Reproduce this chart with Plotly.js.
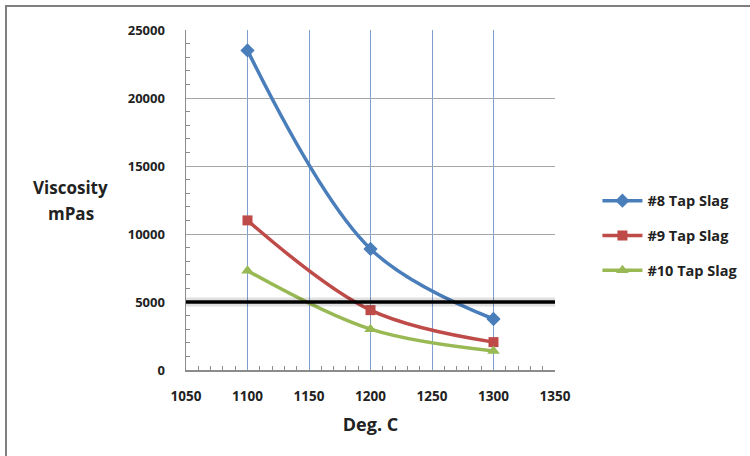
<!DOCTYPE html>
<html>
<head>
<meta charset="utf-8">
<script src="https://cdn.plot.ly/plotly-3.0.1.min.js"></script>
<style>
  html, body { margin: 0; padding: 0; background: #fff; }
  #wrap { position: relative; width: 750px; height: 456px; overflow: hidden; }
  #chart { position: absolute; left: 0; top: 0; width: 750px; height: 456px; }
  #frame { position: absolute; left: 5px; top: 5px; width: 760px; height: 470px;
           border-left: 2px solid #7f7f7f; border-top: 2px solid #7f7f7f; pointer-events: none; }
</style>
</head>
<body>
<div id="wrap"><div id="chart"></div><div id="frame"></div></div>
<script>
// Data
const temperatures = [1100, 1200, 1300];
const tap8 = [23500, 8900, 3750];
const tap9 = [11000, 4400, 2050];
const tap10 = [7300, 3000, 1400];
const seriesNames = ['#8 Tap Slag', '#9 Tap Slag', '#10 Tap Slag'];
const threshold = 5000;
const xRange = [1050, 1350];
const yRange = [0, 25000];

const FONT = '"Open Sans", "DejaVu Sans", sans-serif';
const TXT = '#222222';
const colors = ['#4a7ebb', '#be4b48', '#98b954'];
const symbols = ['diamond', 'square', 'triangle-up'];
const values = [tap8, tap9, tap10];

const traces = values.map((v, i) => ({
  x: temperatures,
  y: v,
  name: seriesNames[i],
  type: 'scatter',
  mode: 'lines+markers',
  line: { color: colors[i], width: 3.5, shape: 'spline', smoothing: 1 },
  marker: { symbol: symbols[i], size: i === 1 ? 10 : 11, color: colors[i] },
  legendgroup: 'g' + i,
  cliponaxis: false
}));

const layout = {
  width: 750,
  height: 456,
  margin: { l: 186, r: 195, t: 30, b: 86, autoexpand: false },
  paper_bgcolor: '#ffffff',
  plot_bgcolor: '#ffffff',
  font: { family: FONT, color: TXT },
  showlegend: true,
  legend: {
    x: 1.115, xanchor: 'left', y: 0.395, yanchor: 'middle',
    font: { family: FONT, size: 14.5, color: TXT, weight: 'bold' },
    tracegroupgap: 13,
    itemwidth: 40,
    bgcolor: 'rgba(0,0,0,0)'
  },
  xaxis: {
    range: xRange,
    dtick: 50,
    tick0: 1050,
    tickformat: 'd',
    automargin: false,
    showgrid: true,
    gridcolor: '#7f9fcf',
    gridwidth: 1,
    zeroline: false,
    showline: true,
    linecolor: '#8c8c8c',
    linewidth: 1.5,
    ticks: '',
    ticklabelstandoff: 13,
    tickfont: { family: FONT, size: 13.5, color: TXT, weight: 'bold' },
    minor: { ticks: 'inside', dtick: 10, ticklen: 4, tickcolor: '#8c8c8c', showgrid: false },
    title: { text: 'Deg. C', font: { family: FONT, size: 18, color: TXT, weight: 'bold' }, standoff: 14 },
    fixedrange: true
  },
  yaxis: {
    range: yRange,
    dtick: 5000,
    tickformat: 'd',
    automargin: false,
    showgrid: true,
    gridcolor: '#a6a6a6',
    gridwidth: 1,
    zeroline: false,
    showline: true,
    linecolor: '#8c8c8c',
    linewidth: 1.5,
    ticks: '',
    ticklabelstandoff: 17,
    tickfont: { family: FONT, size: 13, color: TXT, weight: 'bold' },
    minor: { ticks: 'inside', dtick: 1000, ticklen: 4, tickcolor: '#8c8c8c', showgrid: false },
    fixedrange: true
  },
  shapes: [
    { type: 'line', xref: 'paper', yref: 'y', x0: 0, x1: 1, y0: threshold, y1: threshold,
      line: { color: 'rgba(0,0,0,0.12)', width: 9 }, layer: 'above' },
    { type: 'line', xref: 'paper', yref: 'y', x0: 0, x1: 1, y0: threshold, y1: threshold,
      line: { color: '#000000', width: 3.5 }, layer: 'above' }
  ],
  annotations: [
    { xref: 'paper', yref: 'paper', x: -0.312, y: 0.538, text: 'Viscosity', showarrow: false,
      xanchor: 'center', yanchor: 'middle', font: { family: FONT, size: 17, color: TXT, weight: 'bold' } },
    { xref: 'paper', yref: 'paper', x: -0.312, y: 0.459, text: 'mPas', showarrow: false,
      xanchor: 'center', yanchor: 'middle', font: { family: FONT, size: 17, color: TXT, weight: 'bold' } }
  ]
};

Plotly.newPlot('chart', traces, layout, { displayModeBar: false, staticPlot: true });
</script>
</body>
</html>
